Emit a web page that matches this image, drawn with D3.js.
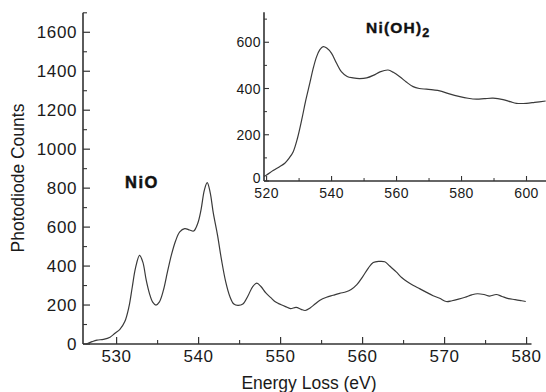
<!DOCTYPE html>
<html>
<head>
<meta charset="utf-8">
<script src="https://cdn.jsdelivr.net/npm/d3@7"></script>
<style>
  html, body { margin: 0; padding: 0; background: #fff; }
  svg { display: block; }
  text { font-family: "Liberation Sans", Arial, Helvetica, sans-serif; fill: #1a1a1a; }
</style>
</head>
<body>
<svg id="chart" width="546" height="392"></svg>
<script>
// ---- Data ----
const nioEnergy = [526.3,527.0,527.6,528.4,529.2,529.8,530.4,531.0,531.5,531.9,532.3,532.8,533.2,533.6,534.0,534.4,534.8,535.2,535.7,536.2,536.7,537.2,537.7,538.3,538.9,539.4,539.9,540.3,540.7,541.05,541.4,541.8,542.3,542.8,543.3,543.8,544.3,544.8,545.4,546.0,546.6,547.1,547.6,548.2,548.8,549.4,550.0,550.6,551.2,551.9,552.5,553.0,553.6,554.2,554.8,555.6,556.4,557.2,558.0,558.6,559.3,560.0,560.7,561.3,562.0,562.7,563.3,564.1,564.8,565.5,566.2,567.0,567.8,568.6,569.4,570.2,570.9,571.7,572.5,573.3,574.0,574.8,575.5,576.3,577.0,577.8,578.6,579.4,579.9];
const nioCounts = [0,12,20,24,35,55,75,115,190,290,390,455,420,330,260,215,200,215,275,370,460,530,575,592,585,580,620,690,790,828,780,670,560,430,320,245,205,198,205,245,295,312,295,262,238,215,203,192,182,188,178,172,185,205,225,240,250,260,268,280,305,345,390,418,424,422,400,370,340,318,300,283,265,248,235,218,222,230,240,252,258,254,246,254,244,233,228,222,218];

const nohEnergy = [519.2,520,522,524,525.6,527,528.2,529.5,530.8,532,533.3,534.4,535.4,536.4,537.4,538.5,540,541.5,543,544.8,546.6,548.6,550.8,553,554.9,557.4,559,561,563,565.1,567,569.2,571.3,573.3,576,579.5,582,584.6,587,589.7,592.8,595,596.9,600,602.5,605.9];
const nohCounts = [20,26,45,62,77,100,127,185,264,345,423,490,538,568,581,575,552,510,473,452,446,443,446,458,472,480,470,451,428,408,400,397,394,390,378,365,358,354,356,358,352,343,336,336,340,346];

const mainXTicks = [530,540,550,560,570,580];
const mainYTicks = [0,200,400,600,800,1000,1200,1400,1600];
const insetXTicks = [520,540,560,580,600];
const insetYTicks = [0,200,400,600];
const mainLabel = "NiO";
const insetLabel = "Ni(OH)";
const insetSub = "2";
const xTitle = "Energy Loss (eV)";
const yTitle = "Photodiode Counts";

// ---- Drawing ----
const svg = d3.select("#chart");
const ink = "#333";

// Main scales
const x = d3.scaleLinear().domain([525.9, 580.6]).range([83, 531.5]);
const y = d3.scaleLinear().domain([0, 1700]).range([344, 12.8]);

// Inset scales
const xi = d3.scaleLinear().domain([519.2, 606]).range([264, 546]);
const yi = d3.scaleLinear().domain([0, 730]).range([181, 12.2]);

function axisLines(g, xs, ys) {
  g.append("line").attr("x1", xs.range()[0]).attr("x2", xs.range()[0])
    .attr("y1", ys.range()[0]).attr("y2", ys.range()[1])
    .attr("stroke", ink).attr("stroke-width", 1.6);
  g.append("line").attr("x1", xs.range()[0]).attr("x2", xs.range()[1])
    .attr("y1", ys.range()[0]).attr("y2", ys.range()[0])
    .attr("stroke", ink).attr("stroke-width", 1.6);
}

// Main axes
const gMain = svg.append("g");
axisLines(gMain, x, y);
const yMinor = d3.range(100, 1701, 200);
gMain.selectAll(".ymaj").data(mainYTicks).join("line")
  .attr("x1", x.range()[0]).attr("x2", x.range()[0] + 7)
  .attr("y1", d => y(d)).attr("y2", d => y(d))
  .attr("stroke", ink).attr("stroke-width", 1.2);
gMain.selectAll(".ymin").data(yMinor).join("line")
  .attr("x1", x.range()[0]).attr("x2", x.range()[0] + 4)
  .attr("y1", d => y(d)).attr("y2", d => y(d))
  .attr("stroke", ink).attr("stroke-width", 1.1);
gMain.selectAll(".ylab").data(mainYTicks).join("text")
  .attr("x", 77).attr("y", d => y(d)).attr("dy", "0.36em")
  .attr("text-anchor", "end").attr("font-size", 17).attr("letter-spacing", 0.6)
  .text(d => d);
const xMinor = [535,545,555,565,575];
gMain.selectAll(".xmaj").data(mainXTicks).join("line")
  .attr("x1", d => x(d)).attr("x2", d => x(d))
  .attr("y1", y(0)).attr("y2", y(0) - 7)
  .attr("stroke", ink).attr("stroke-width", 1.2);
gMain.selectAll(".xmin").data(xMinor).join("line")
  .attr("x1", d => x(d)).attr("x2", d => x(d))
  .attr("y1", y(0)).attr("y2", y(0) - 4)
  .attr("stroke", ink).attr("stroke-width", 1.1);
gMain.selectAll(".xlab").data(mainXTicks).join("text")
  .attr("x", d => x(d)).attr("y", 362)
  .attr("text-anchor", "middle").attr("font-size", 17).attr("letter-spacing", 0.6)
  .text(d => d);

// Axis titles
svg.append("text").attr("x", 309).attr("y", 389).attr("text-anchor", "middle")
  .attr("font-size", 17.5).text(xTitle);
svg.append("text").attr("transform", "translate(24,178) rotate(-90)")
  .attr("text-anchor", "middle").attr("font-size", 17.5).text(yTitle);

// Main line
const lineMain = d3.line().x(d => x(d[0])).y(d => y(d[1])).curve(d3.curveCatmullRom.alpha(0.5));
svg.append("path").datum(d3.zip(nioEnergy, nioCounts))
  .attr("d", lineMain).attr("fill", "none").attr("stroke", "#3a3a3a").attr("stroke-width", 1.2);

// NiO label
svg.append("text").attr("x", 125).attr("y", 188)
  .attr("font-family", "DejaVu Sans").attr("font-weight", "bold")
  .attr("font-size", 16.5).attr("letter-spacing", 1.5)
  .attr("stroke", "#111").attr("stroke-width", 0.5)
  .style("fill", "#111").text(mainLabel);

// Inset axes
const gIn = svg.append("g");
axisLines(gIn, xi, yi);
const yiMinor = [100,300,500,700];
gIn.selectAll(".yimaj").data(insetYTicks).join("line")
  .attr("x1", xi.range()[0]).attr("x2", xi.range()[0] + 5)
  .attr("y1", d => yi(d)).attr("y2", d => yi(d))
  .attr("stroke", ink).attr("stroke-width", 1.1);
gIn.selectAll(".yimin").data(yiMinor).join("line")
  .attr("x1", xi.range()[0]).attr("x2", xi.range()[0] + 3)
  .attr("y1", d => yi(d)).attr("y2", d => yi(d))
  .attr("stroke", ink).attr("stroke-width", 1);
gIn.selectAll(".yilab").data(insetYTicks).join("text")
  .attr("x", 261).attr("y", d => yi(d) - (d === 0 ? 3 : 0)).attr("dy", "0.36em")
  .attr("text-anchor", "end").attr("font-size", 14).attr("letter-spacing", 0.4)
  .text(d => d);
const xiMinor = [530,550,570,590];
gIn.selectAll(".ximaj").data(insetXTicks).join("line")
  .attr("x1", d => xi(d)).attr("x2", d => xi(d))
  .attr("y1", yi(0)).attr("y2", yi(0) - 5)
  .attr("stroke", ink).attr("stroke-width", 1.1);
gIn.selectAll(".ximin").data(xiMinor).join("line")
  .attr("x1", d => xi(d)).attr("x2", d => xi(d))
  .attr("y1", yi(0)).attr("y2", yi(0) - 3)
  .attr("stroke", ink).attr("stroke-width", 1);
gIn.selectAll(".xilab").data(insetXTicks).join("text")
  .attr("x", d => xi(d)).attr("y", 197.5)
  .attr("text-anchor", "middle").attr("font-size", 14).attr("letter-spacing", 0.4)
  .text(d => d);

// Inset line
const lineIn = d3.line().x(d => xi(d[0])).y(d => yi(d[1])).curve(d3.curveCatmullRom.alpha(0.5));
svg.append("path").datum(d3.zip(nohEnergy, nohCounts))
  .attr("d", lineIn).attr("fill", "none").attr("stroke", "#3a3a3a").attr("stroke-width", 1.2);

// Ni(OH)2 label
const tl = svg.append("text").attr("x", 366).attr("y", 33)
  .attr("font-family", "DejaVu Sans").attr("font-weight", "bold")
  .attr("font-size", 15.5).attr("letter-spacing", 1.2)
  .attr("stroke", "#111").attr("stroke-width", 0.4)
  .style("fill", "#111");
tl.append("tspan").text(insetLabel);
tl.append("tspan").attr("font-size", 12.5).attr("dy", 4).text(insetSub);
</script>
</body>
</html>
